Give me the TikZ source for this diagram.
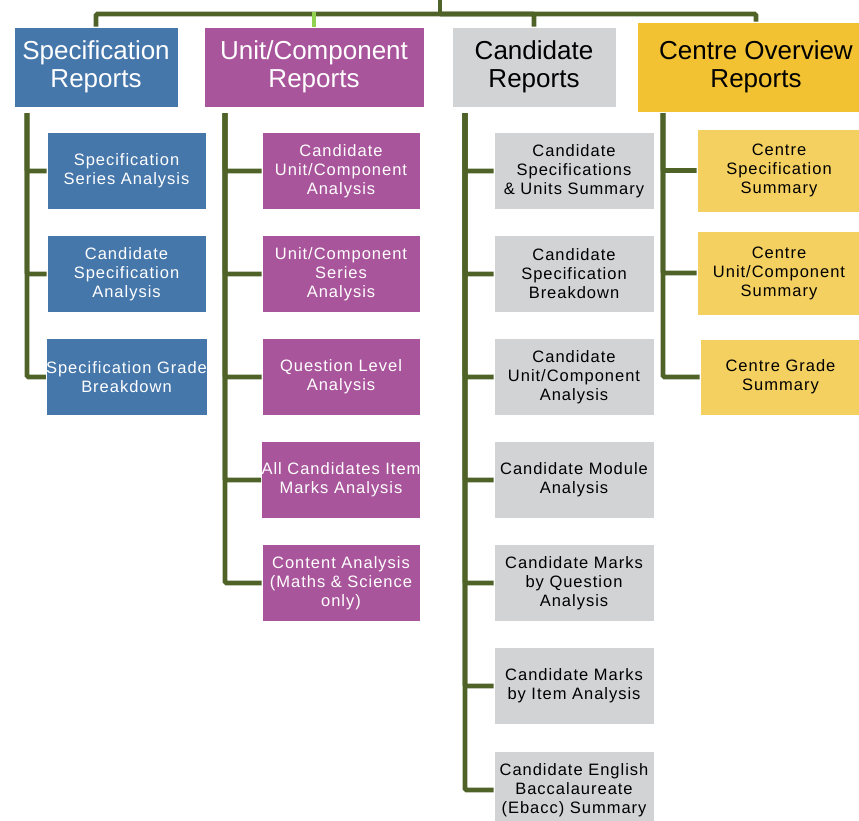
\documentclass[tikz,border=0pt]{standalone}
\usepackage{fontspec}
\setmainfont{Liberation Sans}
\newfontfamily\childfont{Liberation Sans}[LetterSpace=6]
\definecolor{olivec}{HTML}{4F6228}
\definecolor{limec}{HTML}{92D050}
\definecolor{specc}{HTML}{4677AB}
\definecolor{unitc}{HTML}{A9559B}
\definecolor{candc}{HTML}{D1D3D4}
\definecolor{centc}{HTML}{F2C232}
\definecolor{centl}{HTML}{F4D061}
\begin{document}
\begin{tikzpicture}[x=1pt,y=-1pt,
  conn/.style={draw=olivec,line width=4.8pt,rounded corners=1.5pt},
  hdr/.style={font=\fontsize{26}{28}\selectfont,align=center,inner sep=0pt,draw=white,line width=0.6pt},
  child/.style={font=\childfont\fontsize{16.5}{19}\selectfont,align=center,inner sep=0pt,draw=white,line width=0.6pt,minimum height=77pt},
  specbox/.style={child,fill=specc,text=white,minimum width=159pt},
  unitbox/.style={child,fill=unitc,text=white,minimum width=158pt},
  candbox/.style={child,fill=candc,text=black,minimum width=160pt},
  centbox/.style={child,fill=centl,text=black,minimum width=164pt}]
\useasboundingbox (0,0) rectangle (859,820);
\clip (0,0) rectangle (859,820);
% headers
\node[hdr,fill=specc,text=white,minimum width=164pt,minimum height=80pt] (spec) at (96,67) {Specification\\Reports};
\node[hdr,fill=unitc,text=white,minimum width=220pt,minimum height=80pt] (unit) at (314,67) {Unit/Component\\Reports};
\node[hdr,fill=candc,text=black,minimum width=164pt,minimum height=80pt] (cand) at (534,67) {Candidate\\Reports};
\node[hdr,fill=centc,text=black,minimum width=238pt,minimum height=90pt] (cent) at (756,67) {Centre Overview\\Reports};
% top connector
\coordinate (top) at (440,0);
\coordinate (bar) at (440,14);
\draw[conn] (top) -- (bar);
\draw[conn] (bar) -| (spec.north);
\draw[conn] (bar) -| (cent.north);
\draw[conn] (bar) -| (cand.north);
\draw[conn] (bar) -- (314,14);
\draw[draw=limec,line width=4.8pt] (314,12) -- (unit.north);
% spec children
\node[specbox] (s1) at (126.5,171) {Specification\\Series Analysis};
\node[specbox] (s2) at (126.5,274) {Candidate\\Specification\\Analysis};
\node[specbox] (s3) at (126.5,377) {Specification Grade\\Breakdown};
\coordinate (st) at (27,113);
\foreach \n in {s1,s2,s3} \draw[conn] (st) |- (\n.west);
% unit children
\node[unitbox] (u1) at (341,171) {Candidate\\Unit/Component\\Analysis};
\node[unitbox] (u2) at (341,274) {Unit/Component\\Series\\Analysis};
\node[unitbox] (u3) at (341,377) {Question Level\\Analysis};
\node[unitbox] (u4) at (341,480) {All Candidates Item\\Marks Analysis};
\node[unitbox] (u5) at (341,583) {Content Analysis\\(Maths \& Science\\only)};
\coordinate (ut) at (225,113);
\foreach \n in {u1,u2,u3,u4,u5} \draw[conn] (ut) |- (\n.west);
% candidate children
\node[candbox] (c1) at (574,171) {Candidate\\Specifications\\\& Units Summary};
\node[candbox] (c2) at (574,274) {Candidate\\Specification\\Breakdown};
\node[candbox] (c3) at (574,377) {Candidate\\Unit/Component\\Analysis};
\node[candbox] (c4) at (574,480) {Candidate Module\\Analysis};
\node[candbox] (c5) at (574,583) {Candidate Marks\\by Question\\Analysis};
\node[candbox] (c6) at (574,686) {Candidate Marks\\by Item Analysis};
\node[candbox] (c7) at (574,790) {Candidate English\\Baccalaureate\\(Ebacc) Summary};
\coordinate (ct) at (465,113);
\foreach \n in {c1,c2,c3,c4,c5,c6,c7} \draw[conn] (ct) |- (\n.west);
% centre children
\node[centbox,minimum height=83pt] (e1) at (779,170.5) {Centre\\Specification\\Summary};
\node[centbox,minimum height=84pt] (e2) at (779,273) {Centre\\Unit/Component\\Summary};
\node[centbox,minimum width=161pt,minimum height=76pt] (e3) at (780.5,377) {Centre Grade\\Summary};
\coordinate (et) at (663,113);
\foreach \n in {e1,e2,e3} \draw[conn] (et) |- (\n.west);
\end{tikzpicture}
\end{document}
